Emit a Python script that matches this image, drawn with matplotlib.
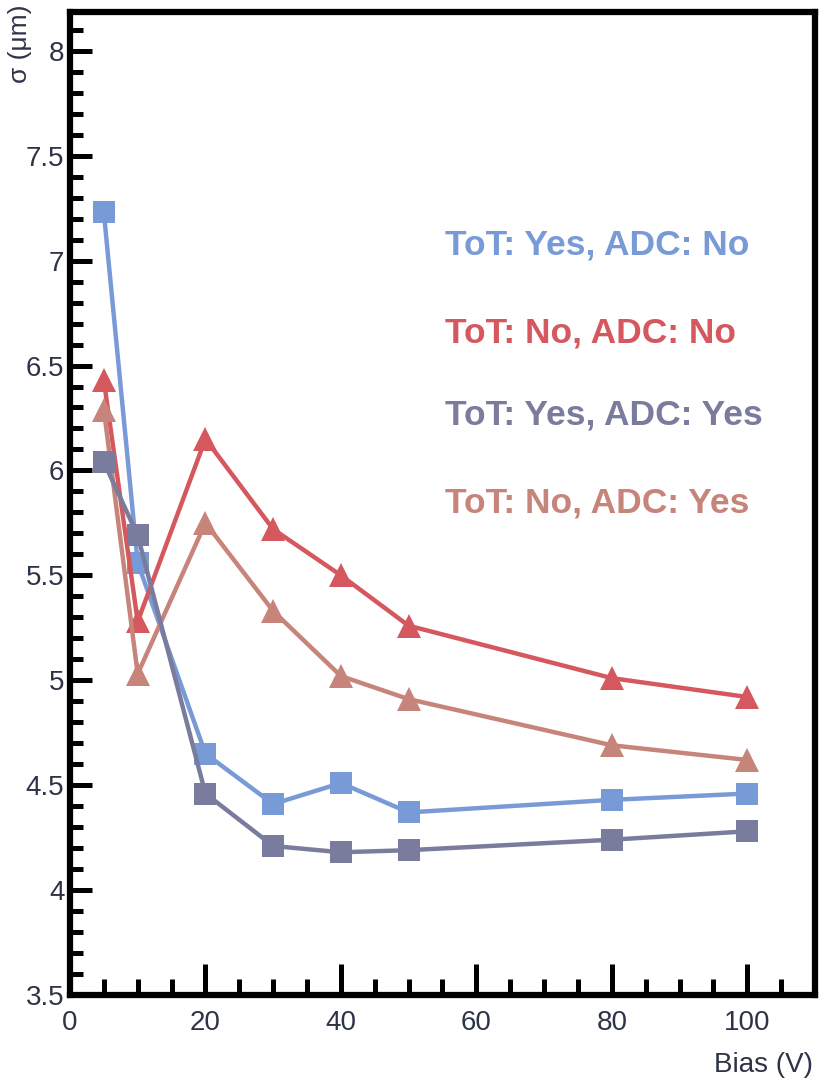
import numpy as np
import matplotlib
matplotlib.use("Agg")
from matplotlib import pyplot as plt
from matplotlib.ticker import MultipleLocator

plt.rcParams['font.family'] = ['Liberation Sans', 'DejaVu Sans']

bias = [5, 10, 20, 30, 40, 50, 80, 100]

# sigma (um) for each readout setting
tot_yes_adc_no = [7.23, 5.56, 4.65, 4.41, 4.51, 4.37, 4.43, 4.46]
tot_no_adc_no = [6.43, 5.28, 6.15, 5.72, 5.50, 5.26, 5.01, 4.92]
tot_no_adc_yes = [6.29, 5.03, 5.75, 5.33, 5.02, 4.91, 4.69, 4.62]
tot_yes_adc_yes = [6.04, 5.69, 4.46, 4.21, 4.18, 4.19, 4.24, 4.28]

labels = ['ToT: Yes, ADC: No', 'ToT: No, ADC: No',
          'ToT: Yes, ADC: Yes', 'ToT: No, ADC: Yes']
label_y = [7.03, 6.61, 6.22, 5.80]

c_blue = '#789bd7'
c_red = '#d6585f'
c_dark = '#7a7c9e'
c_tan = '#c7847a'

fig = plt.figure(figsize=(8.27, 10.81), dpi=100)
ax = fig.add_axes([0.0846, 0.0796, 0.9009, 0.9093])

ax.plot(bias, tot_yes_adc_no, '-s', color=c_blue, lw=3.2, ms=15.8, mew=0)
ax.plot(bias, tot_no_adc_no, '-^', color=c_red, lw=3.2, ms=17, mew=0)
ax.plot(bias, tot_no_adc_yes, '-^', color=c_tan, lw=3.2, ms=17, mew=0)
ax.plot(bias, tot_yes_adc_yes, '-s', color=c_dark, lw=3.2, ms=15.8, mew=0)

for txt, y, c in zip(labels, label_y, [c_blue, c_red, c_dark, c_tan]):
    ax.text(55.3, y, txt, color=c, fontsize=25.5, fontweight='bold',
            va='baseline', ha='left')

ax.set_xlim(0, 110)
ax.set_ylim(3.5, 8.185)

ax.xaxis.set_minor_locator(MultipleLocator(5))
ax.yaxis.set_minor_locator(MultipleLocator(0.1))

ax.set_xticks([0, 20, 40, 60, 80, 100])
ax.set_xticklabels(['0', '20', '40', '60', '80', '100'])
ax.set_yticks([3.5, 4, 4.5, 5, 5.5, 6, 6.5, 7, 7.5, 8])
ax.set_yticklabels(['3.5', '4', '4.5', '5', '5.5', '6', '6.5', '7', '7.5', '8'])

tick_col = '#2e3448'
ax.tick_params(axis='x', which='major', direction='in', length=22, width=3.6,
               labelsize=20, labelcolor=tick_col, pad=11, top=False)
ax.tick_params(axis='x', which='minor', direction='in', length=11.5, width=3.6,
               top=False)
ax.tick_params(axis='y', which='major', direction='in', length=16, width=3.6,
               labelsize=20, labelcolor=tick_col, pad=4, right=False)
ax.tick_params(axis='y', which='minor', direction='in', length=9, width=3.6,
               right=False)

for sp in ax.spines.values():
    sp.set_linewidth(4.5)
    sp.set_color('black')

fig.text(0.983, 0.0148, 'Bias (V)', ha='right', va='center',
         fontsize=20, color=tick_col)
fig.text(0.024, 0.996, 'σ (μm)', ha='center', va='top', rotation=90,
         fontsize=19, color=tick_col)

fig.savefig('out.png', dpi=100)
